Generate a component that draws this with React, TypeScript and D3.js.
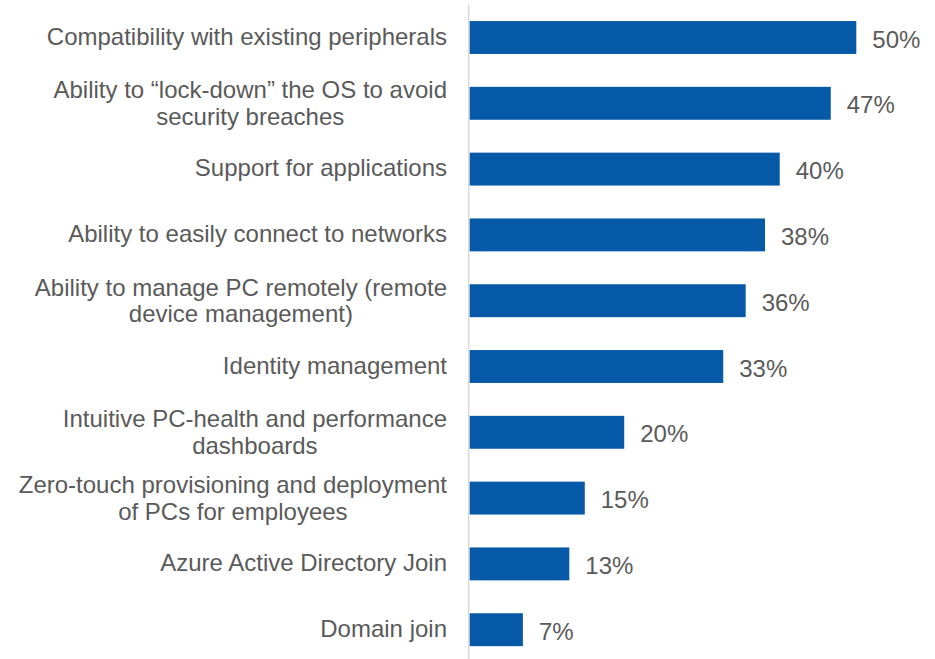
import React, { useEffect, useRef } from "react";
import * as d3 from "d3";

const categories: string[][] = [
  ["Compatibility with existing peripherals"],
  ["Ability to “lock-down” the OS to avoid", "security breaches"],
  ["Support for applications"],
  ["Ability to easily connect to networks"],
  ["Ability to manage PC remotely (remote", "device management)"],
  ["Identity management"],
  ["Intuitive PC-health and performance", "dashboards"],
  ["Zero-touch provisioning and deployment", "of PCs for employees"],
  ["Azure Active Directory Join"],
  ["Domain join"],
];
const values: number[] = [50, 46.7, 40.1, 38.2, 35.7, 32.8, 20, 14.9, 12.9, 6.9];

const W = 935;
const H = 659;
const FONT = "'Liberation Sans', Arial, sans-serif";
const FS = 24;
const TEXT = "#5a5a5a";
const BAR = "#0559A6";

export default function App() {
  const ref = useRef<SVGSVGElement | null>(null);

  useEffect(() => {
    const svg = d3.select(ref.current);
    svg.selectAll("*").remove();
    const keys = categories.map((c) => c.join(" "));
    const x = d3.scaleLinear().domain([0, 50]).range([469.5, 856.3]);
    const y = d3
      .scaleBand<string>()
      .domain(keys)
      .range([4.6, 662.6])
      .paddingInner(0.5)
      .paddingOuter(0.25);

    const g = svg.append("g");
    keys.forEach((k, i) => {
      const top = y(k)!;
      const cy = top + y.bandwidth() / 2;
      g.append("rect")
        .attr("x", x(0))
        .attr("y", top)
        .attr("width", x(values[i]) - x(0))
        .attr("height", y.bandwidth())
        .attr("fill", BAR);
      g.append("text")
        .attr("x", x(values[i]) + 16)
        .attr("y", cy + 10)
        .attr("font-family", FONT)
        .attr("font-size", FS)
        .attr("fill", TEXT)
        .text(Math.round(values[i]) + "%");

      const lines = categories[i];
      const right = 447;
      if (lines.length === 1) {
        g.append("text")
          .attr("x", right)
          .attr("y", cy + 7)
          .attr("text-anchor", "end")
          .attr("font-family", FONT)
          .attr("font-size", FS)
          .attr("fill", TEXT)
          .text(lines[0]);
      } else {
        const t1 = g
          .append("text")
          .attr("x", right)
          .attr("y", cy - 5.2)
          .attr("text-anchor", "end")
          .attr("font-family", FONT)
          .attr("font-size", FS)
          .attr("fill", TEXT)
          .text(lines[0]);
        const w1 = (t1.node() as SVGTextElement).getComputedTextLength();
        g.append("text")
          .attr("x", right - w1 / 2)
          .attr("y", cy + 21.4)
          .attr("text-anchor", "middle")
          .attr("font-family", FONT)
          .attr("font-size", FS)
          .attr("fill", TEXT)
          .text(lines[1]);
      }
    });

    g.append("line")
      .attr("x1", 468.7)
      .attr("x2", 468.7)
      .attr("y1", 4.6)
      .attr("y2", 662.6)
      .attr("stroke", "#D9D9D9")
      .attr("stroke-width", 1.5);
  }, []);

  return (
    <svg
      ref={ref}
      width={W}
      height={H}
      style={{ position: "absolute", left: 0, top: 0, background: "#fff" }}
    />
  );
}
